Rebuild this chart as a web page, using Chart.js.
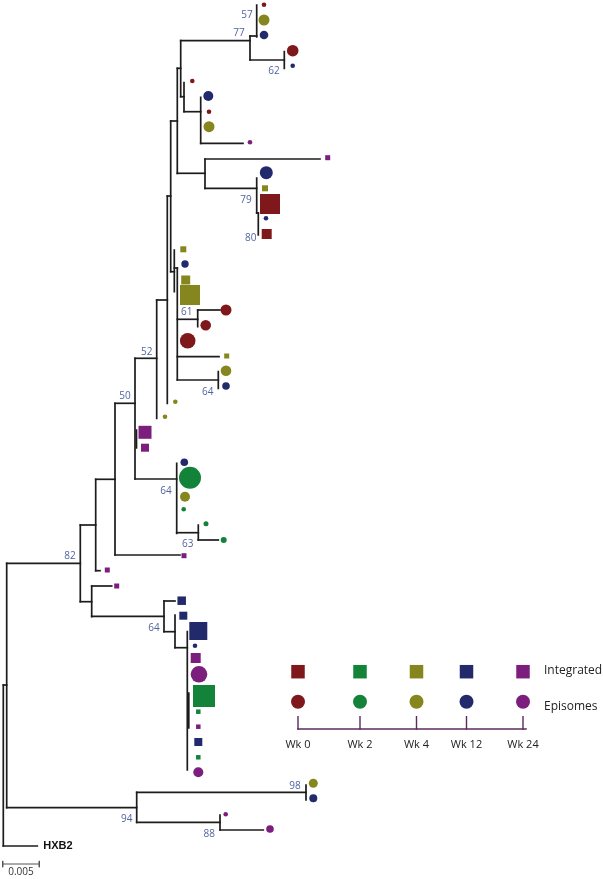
<!DOCTYPE html>
<html><head><meta charset="utf-8">
<script src="https://cdn.jsdelivr.net/npm/chart.js@4"></script>
<style>html,body{margin:0;padding:0;background:#fff}#wrap{width:603px;height:879px;position:relative}</style>
</head><body><div id="wrap"><canvas id="c"></canvas></div>
<script>
// ---------------- DATA ----------------
// sampling time points (legend categories)
const timepoints = ['Wk 0', 'Wk 2', 'Wk 4', 'Wk 12', 'Wk 24'];
const sampleTypes = ['Integrated', 'Episomes'];
// tree drawn in tree units: x = cumulative branch length (0.005 subst/site = 36.6 units), y = leaf order position
const scaleBarLength = 0.005;
// horizontal branches: [y, xStart, xEnd]
const hBranches = [
  [40.7, 180.7, 250], [60, 250, 284.3], [36, 250, 256.7], [68.3, 177.3, 180.7],
  [96.7, 180.7, 184], [111.7, 184, 200.7], [143.3, 200.7, 243], [121, 170.7, 177.3],
  [173.3, 177.3, 205], [159, 205, 320], [188.3, 205, 256.7], [213, 256.7, 258.3],
  [196, 167.3, 170.7], [271.7, 170.7, 174.3], [268, 174.3, 177.3], [319.3, 177.3, 197.7],
  [310, 197.7, 220], [356.7, 177.3, 219], [380, 177.3, 218.3], [300, 156.7, 167.3],
  [358.3, 135, 156.7], [403.3, 115, 135], [479, 135, 176.7], [532.7, 176.7, 198.3],
  [540, 198.3, 218.3], [555, 115, 180], [479.3, 95.7, 115], [570.7, 95.7, 100],
  [525, 80.3, 95.7], [563.3, 6.7, 80.3], [601.7, 80.3, 91.7], [586, 91.7, 111.7],
  [616.3, 91.7, 164], [601, 164, 175], [631.7, 164, 175], [647.7, 175, 187.3],
  [685, 3.3, 6.7], [807.7, 6.7, 136.7], [792.3, 136.7, 306], [822.3, 136.7, 220],
  [830, 220, 263.3], [846, 3.3, 37.3]
];
// vertical connectors: [x, yStart, yEnd]
const vBranches = [
  [256.7, 5, 37], [250, 36, 60], [284.3, 51.7, 68.3], [180.7, 40.7, 96.7],
  [177.3, 68.3, 173.3], [184, 82.7, 111.7], [200.7, 97.3, 143.3], [170.7, 121, 271.7],
  [205, 159, 188.3], [256.7, 178, 213], [258.3, 213, 235], [167.3, 196, 403.3],
  [174.3, 250, 291.7], [177.3, 268, 380], [197.7, 310, 326.7], [218.3, 371.7, 388.3],
  [156.7, 300, 418.3], [135, 358.3, 479], [136.5, 430, 448], [176.7, 463.3, 533.3],
  [198.3, 525, 540], [115, 403.3, 555], [95.7, 479.3, 570.7], [80.3, 525, 601.7],
  [91.7, 586, 616.7], [164, 601, 631.7], [175, 615, 647.7], [187.3, 631.7, 770],
  [188.8, 693, 728], [6.7, 563.3, 807.7], [3.3, 685, 846], [136.7, 792.3, 822.3],
  [306, 785, 800], [220, 815, 830]
];
// episome sequences (circles): [x, y, size, timepoint index]
const episomeLeaves = [
  [264, 4.7, 2.3, 0], [264, 20, 5.5, 2], [264, 35, 4.3, 3], [292.7, 50.7, 5.8, 0],
  [292.7, 65.7, 2.3, 3], [192.3, 81, 2.3, 0], [208.3, 96, 5, 3], [209, 111.7, 2.3, 0],
  [209, 126.7, 5.5, 2], [250, 142.3, 2.3, 4], [266.3, 172.7, 6.5, 3], [266, 218.3, 2.3, 3],
  [185, 264, 3.7, 3], [226, 310, 5.5, 0], [205.7, 325.3, 5.3, 0], [187.7, 340.7, 7.8, 0],
  [226, 370.7, 5.3, 2], [226, 386, 3.8, 3], [175.3, 401.7, 2.3, 2], [165, 416.7, 2.3, 2],
  [184.3, 462.3, 3.8, 3], [190, 477.7, 11, 1], [185, 496.7, 5, 2], [183.7, 509.3, 2.3, 1],
  [206, 523.7, 2.5, 1], [223.7, 540, 3, 1], [195, 645.7, 2.3, 3], [199, 674.3, 8.3, 4],
  [198.3, 772.3, 5, 4], [313.3, 783.3, 4.5, 2], [313.3, 798.3, 4, 3], [225.7, 814.3, 2.3, 4],
  [270, 829, 3.8, 4]
];
// integrated sequences (squares): [x, y, size, timepoint index]
const integratedLeaves = [
  [327.7, 157.7, 5, 4], [265, 188.3, 6, 2], [270, 204, 20, 0], [266.7, 234, 10, 0],
  [183.3, 249.3, 6, 2], [185.7, 280, 9, 2], [190, 295, 20, 2], [226.7, 356, 5, 2],
  [145, 432.3, 13, 4], [145, 447.7, 8, 4], [184, 555.7, 5, 4], [107.3, 570, 5, 4],
  [116.7, 586, 5, 4], [181.7, 600.7, 8.5, 3], [183.3, 615.7, 8, 3], [198.3, 631, 18, 3],
  [195.7, 658, 10, 4], [204, 696, 22, 1], [198.3, 711.7, 4.5, 1], [198.3, 726.7, 4.5, 4],
  [198.3, 742, 8, 3], [198.3, 757.3, 4.5, 1]
];
// bootstrap support values: [x, y, value]
const bootstrapValues = [
  [247, 15, 57], [239, 33, 77], [274, 71, 62], [246, 200, 79], [250.7, 238.3, 80],
  [186.7, 311.7, 61], [207.7, 391.7, 64], [146.7, 351.7, 52], [125, 395.7, 50],
  [166, 490.7, 64], [187.7, 544.3, 63], [70, 556, 82], [154, 628.3, 64],
  [295, 785.7, 98], [126.7, 819, 94], [209.3, 834, 88]
];
const referenceLabel = ['HXB2', 43.3, 846];

// ---------------- STYLE / LAYOUT ----------------
const COLORS = ['#7f181b', '#13833a', '#86861f', '#232a6c', '#7c1e7d'];
const LINE = '#1c1c1c';
const BOOT = '#5264a0';
const legendLayout = { x: [298, 360, 416.5, 466.5, 523], ySq: 671.7, yCirc: 701.7, yAxis: 729, yTickTop: 716.7, yLab: 745, sq: 13.5, r: 7, textX: 544 };
const scaleBar = { x0: 2.7, y: 864, unitsPerScale: 36.6 };

// ---------------- BUILD ----------------
const datasets = [];
function seg(p1, p2, color, w) {
  datasets.push({ type: 'scatter', data: [p1, p2], showLine: true, borderColor: color, borderWidth: w,
    pointRadius: 0, borderCapStyle: 'square', fill: false, order: 2 });
}
hBranches.forEach(([y, a, b]) => seg({ x: a, y }, { x: b, y }, LINE, 1.7));
vBranches.forEach(([x, a, b]) => seg({ x, y: a }, { x, y: b }, LINE, 1.7));
// scale bar
const sbEnd = scaleBar.x0 + scaleBar.unitsPerScale * (scaleBarLength / 0.005);
seg({ x: scaleBar.x0, y: scaleBar.y }, { x: sbEnd, y: scaleBar.y }, '#555', 1);
seg({ x: scaleBar.x0, y: scaleBar.y - 3 }, { x: scaleBar.x0, y: scaleBar.y + 3 }, '#555', 1);
seg({ x: sbEnd, y: scaleBar.y - 3 }, { x: sbEnd, y: scaleBar.y + 3 }, '#555', 1);
// legend axis
const L = legendLayout;
seg({ x: L.x[0], y: L.yAxis }, { x: L.x[4] + 3, y: L.yAxis }, '#5b2b5b', 1.6);
L.x.forEach(x => seg({ x, y: L.yTickTop }, { x, y: L.yAxis }, '#5b2b5b', 1.4));

// leaf markers per timepoint
timepoints.forEach((tp, i) => {
  const ep = episomeLeaves.filter(d => d[3] === i);
  datasets.push({ type: 'scatter', label: tp + ' episomes', data: ep.map(d => ({ x: d[0], y: d[1] })),
    pointStyle: 'circle', pointRadius: ep.map(d => d[2]), backgroundColor: COLORS[i],
    borderColor: COLORS[i], pointBorderWidth: 0, order: 1 });
  const ig = integratedLeaves.filter(d => d[3] === i);
  datasets.push({ type: 'scatter', label: tp + ' integrated', data: ig.map(d => ({ x: d[0], y: d[1] })),
    pointStyle: 'rect', pointRadius: ig.map(d => d[2] / Math.SQRT2), backgroundColor: COLORS[i],
    borderColor: COLORS[i], pointBorderWidth: 0, order: 1 });
  // legend symbols
  datasets.push({ type: 'scatter', data: [{ x: L.x[i], y: L.ySq }], pointStyle: 'rect',
    pointRadius: L.sq / Math.SQRT2, backgroundColor: COLORS[i], pointBorderWidth: 0, order: 1 });
  datasets.push({ type: 'scatter', data: [{ x: L.x[i], y: L.yCirc }], pointStyle: 'circle',
    pointRadius: L.r, backgroundColor: COLORS[i], pointBorderWidth: 0, order: 1 });
});

const textPlugin = {
  id: 'texts',
  afterDatasetsDraw(chart) {
    const { ctx, scales: { x, y } } = chart;
    ctx.save();
    ctx.textBaseline = 'middle';
    ctx.textAlign = 'center';
    ctx.fillStyle = BOOT;
    ctx.font = '10px "Open Sans", "Liberation Sans", sans-serif';
    bootstrapValues.forEach(([bx, by, v]) => ctx.fillText(String(v), x.getPixelForValue(bx), y.getPixelForValue(by)));
    ctx.fillStyle = '#111';
    ctx.textAlign = 'left';
    ctx.font = 'bold 11px "Liberation Sans", Arial, sans-serif';
    ctx.fillText(referenceLabel[0], x.getPixelForValue(referenceLabel[1]), y.getPixelForValue(referenceLabel[2]));
    ctx.textAlign = 'center';
    ctx.fillStyle = '#333';
    ctx.font = '10px "Open Sans", "Liberation Sans", sans-serif';
    ctx.fillText(String(scaleBarLength), x.getPixelForValue((scaleBar.x0 + sbEnd) / 2), y.getPixelForValue(scaleBar.y + 8.5));
    ctx.fillStyle = '#222';
    ctx.font = '11px "Open Sans", "Liberation Sans", sans-serif';
    timepoints.forEach((t, i) => ctx.fillText(t, x.getPixelForValue(L.x[i]), y.getPixelForValue(L.yLab)));
    ctx.textAlign = 'left';
    ctx.font = '12px "Open Sans", "Liberation Sans", sans-serif';
    ctx.fillText(sampleTypes[0], x.getPixelForValue(L.textX), y.getPixelForValue(L.ySq - 1));
    ctx.fillText(sampleTypes[1], x.getPixelForValue(L.textX), y.getPixelForValue(L.yCirc + 5));
    ctx.restore();
  }
};

new Chart(document.getElementById('c'), {
  type: 'scatter',
  data: { datasets },
  options: {
    responsive: true, maintainAspectRatio: false, animation: false, events: [],
    layout: { padding: 0, autoPadding: false },
    clip: false,
    plugins: { legend: { display: false }, tooltip: { enabled: false } },
    scales: {
      x: { type: 'linear', min: 0, max: 603, display: false },
      y: { type: 'linear', min: 0, max: 879, reverse: true, display: false }
    }
  },
  plugins: [textPlugin]
});
</script></body></html>
